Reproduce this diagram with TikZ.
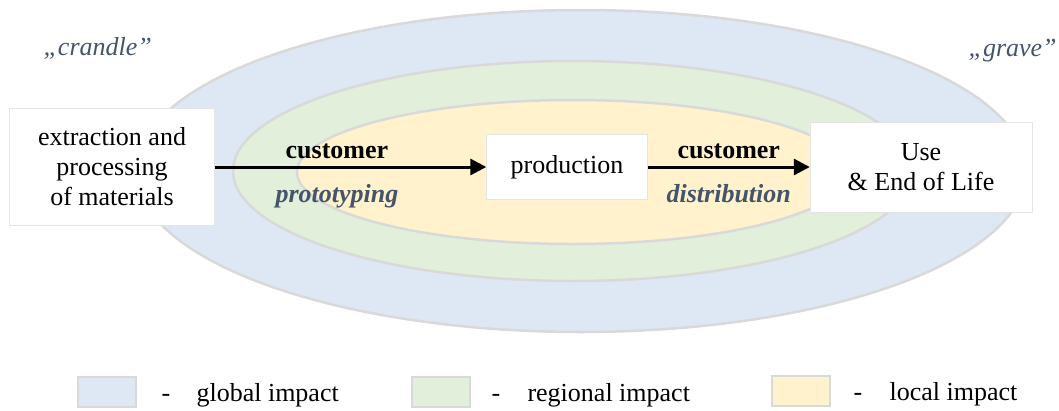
\documentclass[tikz,border=0pt]{standalone}
\usepackage{fontspec}
\setmainfont{Liberation Serif}
\usetikzlibrary{arrows.meta}
\definecolor{globalblue}{HTML}{DEE8F4}
\definecolor{regiongreen}{HTML}{E2EFDA}
\definecolor{localyellow}{HTML}{FFF2CC}
\definecolor{ringgray}{HTML}{D9D9D9}
\definecolor{slate}{HTML}{44546A}
\begin{document}
\begin{tikzpicture}[x=1pt, y=-1pt,
  zone/.style={draw=ringgray, line width=2.5pt},
  block/.style={draw=ringgray!70, fill=white, align=center,
                font=\fontsize{26}{30}\selectfont},
  arr/.style={-{Triangle[length=16pt, width=16pt]}, line width=3pt},
  lbl/.style={font=\fontsize{26}{30}\selectfont\bfseries},
  phase/.style={font=\fontsize{26}{30}\selectfont\bfseries\itshape, text=slate},
  legbox/.style={draw=ringgray, line width=2pt, minimum width=58pt,
                 minimum height=30pt, inner sep=0pt},
  legtext/.style={anchor=base west, font=\fontsize{26}{30}\selectfont},
]
  \useasboundingbox (0,0) rectangle (1059,410);

  % impact zones, largest first
  \draw[zone, fill=globalblue] (581,171) ellipse [x radius=445, y radius=161];
  \draw[zone, fill=regiongreen] (573,171) ellipse [x radius=340, y radius=110];
  \draw[zone, fill=localyellow] (573,172) ellipse [x radius=276, y radius=72];

  % life cycle stages
  \node[block, minimum width=205pt, minimum height=117pt] (extract) at (112,167)
    {extraction and\\processing\\of materials};
  \node[block, minimum width=161pt, minimum height=65pt] (prod) at (567,167) {production};
  \node[block, minimum width=222pt, minimum height=90pt] (use) at (921,167)
    {Use\\\& End of Life};

  \draw[arr] (extract.east) -- (prod.west)
    node[pos=0.45, above=3pt, lbl] (cust1) {customer}
    node[pos=0.45, below=13pt, phase] (proto) {prototyping};
  \draw[arr] (prod.east) -- (use.west)
    node[midway, above=3pt, lbl] (cust2) {customer}
    node[midway, below=13pt, phase] (distr) {distribution};

  \node[anchor=base west, font=\fontsize{26}{30}\selectfont\itshape, text=slate]
    (cradle) at (40,55) {„crandle”};
  \node[anchor=base west, font=\fontsize{26}{30}\selectfont\itshape, text=slate]
    (grave) at (965,56) {„grave”};

  % legend
  \node[legbox, fill=globalblue] (legglobal) at (107,392) {};
  \node[legtext] (dashglobal) at (158,401) {-};
  \node[legtext] (txtglobal) at (193,401) {global impact};
  \node[legbox, fill=regiongreen] (legregion) at (441,392) {};
  \node[legtext] (dashregion) at (488,401) {-};
  \node[legtext] (txtregion) at (524,401) {regional impact};
  \node[legbox, fill=localyellow] (leglocal) at (801,391) {};
  \node[legtext] (dashlocal) at (850,400) {-};
  \node[legtext] (txtlocal) at (886,400) {local impact};
\end{tikzpicture}
\end{document}
